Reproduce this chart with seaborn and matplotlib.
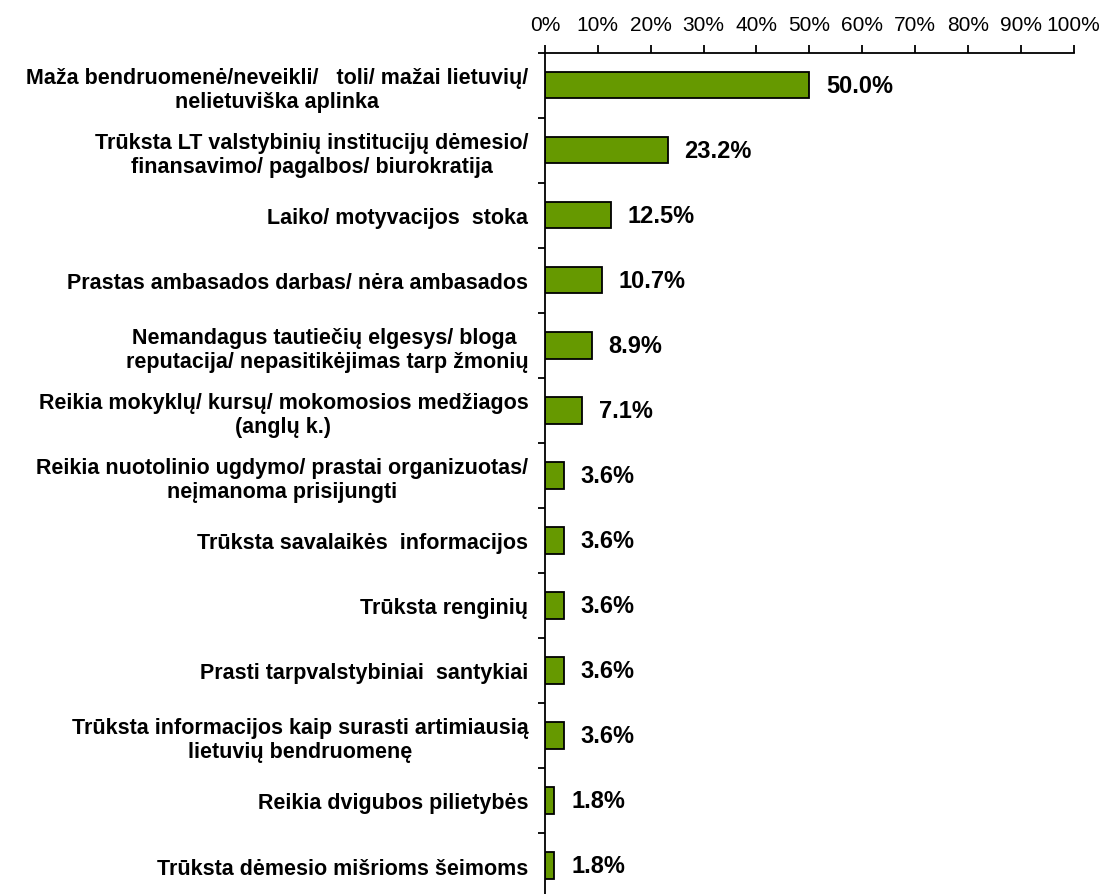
import numpy as np
import pandas as pd
import seaborn as sns
import matplotlib.pyplot as plt
from matplotlib.ticker import FixedLocator, PercentFormatter

# Chart data
categories = [
    "Maža bendruomenė/neveikli/   toli/ mažai lietuvių/\nnelietuviška aplinka",
    "Trūksta LT valstybinių institucijų dėmesio/\nfinansavimo/ pagalbos/ biurokratija",
    "Laiko/ motyvacijos  stoka",
    "Prastas ambasados darbas/ nėra ambasados",
    "Nemandagus tautiečių elgesys/ bloga \nreputacija/ nepasitikėjimas tarp žmonių",
    "Reikia mokyklų/ kursų/ mokomosios medžiagos\n(anglų k.)",
    "Reikia nuotolinio ugdymo/ prastai organizuotas/\nneįmanoma prisijungti",
    "Trūksta savalaikės  informacijos",
    "Trūksta renginių",
    "Prasti tarpvalstybiniai  santykiai",
    "Trūksta informacijos kaip surasti artimiausią\nlietuvių bendruomenę",
    "Reikia dvigubos pilietybės",
    "Trūksta dėmesio mišrioms šeimoms",
]
values = [50.0, 23.2, 12.5, 10.7, 8.9, 7.1, 3.6, 3.6, 3.6, 3.6, 3.6, 1.8, 1.8]
x_ticks = list(range(0, 101, 10))

df = pd.DataFrame({"category": categories, "value": values})

sns.set_style("white")
plt.rcParams["font.family"] = ["Liberation Sans", "DejaVu Sans"]
plt.rcParams["text.color"] = "black"
plt.rcParams["xtick.color"] = "black"
plt.rcParams["ytick.color"] = "black"

fig = plt.figure(figsize=(11.09, 8.95), dpi=100)
ax = fig.add_axes([0.4914, -0.0045, 0.4766, 0.9447])

sns.barplot(data=df, x="value", y="category", orient="h", color="#669900",
            edgecolor="black", linewidth=1.3, width=0.41, saturation=1, ax=ax)

ax.set_xlim(0, 100)
ax.set_ylim(len(categories) - 0.5, -0.5)
ax.set_xlabel("")
ax.set_ylabel("")

# x axis on top
ax.xaxis.tick_top()
ax.set_xticks(x_ticks)
ax.xaxis.set_major_formatter(PercentFormatter(decimals=0))
ax.tick_params(axis="x", direction="out", length=6, width=1.3,
               labelsize=15, pad=7)

# y ticks at category boundaries
ax.set_yticks(range(len(categories)))
ax.set_yticklabels(categories, fontsize=15.5, fontweight="bold",
                   multialignment="center", linespacing=1.2)
ax.yaxis.set_minor_locator(FixedLocator(np.arange(-0.5, len(categories), 1)))
ax.tick_params(axis="y", which="major", length=0, pad=12)
ax.tick_params(axis="y", which="minor", direction="out", length=5, width=1.3, left=True)

for side in ["right", "bottom"]:
    ax.spines[side].set_visible(False)
for side in ["top", "left"]:
    ax.spines[side].set_color("black")
    ax.spines[side].set_linewidth(1.3)

for i, v in enumerate(values):
    ax.annotate(f"{v:.1f}%", xy=(v, i), xytext=(12, 0), textcoords="offset points",
                va="center", ha="left", fontsize=17, fontweight="bold")

fig.savefig("out.png", dpi=100)
